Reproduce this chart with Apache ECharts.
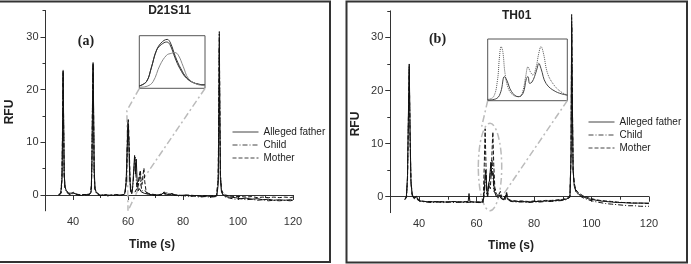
<!DOCTYPE html>
<html><head><meta charset="utf-8">
<script src="https://cdn.jsdelivr.net/npm/echarts@6/dist/echarts.min.js"></script>
<style>html,body{margin:0;padding:0;background:#fff}#c{width:691px;height:264px}</style>
</head><body><div id="c"></div><script>
// ---------- data ----------
var seriesNames = ['Alleged father', 'Child', 'Mother'];
var xLabelTicks = [40, 60, 80, 100, 120];
var xMinorTicks = [50, 70, 90, 110];
var yLabelTicks = [0, 10, 20, 30];
var yMinorTicks = [5, 15, 25, 35];

// Panel (a) D21S11  [time (s), RFU]
var fatherA = [[34.7,0.1],[35.5,0.2],[36.0,3],[36.2,12],[36.4,23.5],[36.6,14],[36.8,4],[37.1,1.5],[37.6,0.8],[38.3,0.3],[39,0.1],[40,0.4],[40.6,0.1],[42,0],[43,-0.1],[44,0.1],[45,0],[46,0.1],[46.6,0.5],[46.9,6],[47.1,17],[47.3,25],[47.5,16],[47.7,5],[48,1.2],[48.5,0.4],[49.5,0],[51,-0.1],[52,0.1],[53,-0.1],[54,0],[55,-0.1],[56,0.1],[57,-0.1],[58,0],[58.8,0.2],[59.3,2],[59.7,9],[60.0,13.8],[60.3,10],[60.6,4],[60.9,1],[61.3,0.3],[61.7,1.5],[62.1,5],[62.4,7.5],[62.7,4],[63.0,6.8],[63.3,3],[63.7,0.8],[64.2,1.2],[64.8,0.6],[65.5,0.8],[66,0.3],[67,0.2],[68,0.1],[70,0],[72,0],[73,0.5],[73.6,0],[75,0.1],[76,0.3],[77,0],[79,-0.1],[81,0],[83,-0.2],[85,-0.1],[87,-0.3],[89,-0.2],[91,-0.3],[92.3,-0.2],[92.8,2],[93.0,12],[93.2,28],[93.4,14],[93.6,3],[94,0.5],[94.6,0],[95.5,-0.3],[97,-0.4],[99,-0.5],[101,-0.7],[103,-0.6],[105,-0.8],[107,-0.7],[109,-0.9],[111,-0.8],[113,-1.0],[115,-0.9],[117,-1.0],[119,-0.9],[120,-1.0]];
var childA = [[34.8,0],[35.6,0.3],[36.0,4],[36.2,13],[36.4,23.8],[36.6,13],[36.8,3.5],[37.1,1.2],[37.6,0.6],[38.3,0.2],[39.2,0],[40.1,0.3],[40.8,0],[42,0.1],[43.5,-0.1],[45,0.1],[46.2,0.2],[46.7,1],[46.9,7],[47.1,18],[47.3,25.2],[47.5,15],[47.7,4],[48,1],[48.6,0.3],[49.6,-0.1],[51,0],[52.5,-0.2],[54,0],[55.5,-0.1],[57,0],[58.2,-0.1],[58.9,0.4],[59.4,3],[59.8,11],[60.1,14.3],[60.4,9],[60.7,3],[61.0,0.6],[61.4,0.2],[61.9,2.5],[62.3,6],[62.6,7.2],[62.9,3.5],[63.2,1.5],[63.8,2.5],[64.3,4.2],[64.6,2.5],[65.0,0.8],[65.6,0.5],[66.3,0.8],[67,0.2],[68.5,0],[70,-0.1],[71.5,0.1],[72.8,0.3],[73.4,0],[74.6,0.4],[75.2,0],[76.5,0.1],[78,-0.2],[80,-0.1],[82,-0.3],[84,-0.2],[86,-0.4],[88,-0.3],[90,-0.4],[92.2,-0.3],[92.8,3],[93.0,15],[93.2,31],[93.4,16],[93.6,4],[94,0.8],[94.6,0],[95.5,-0.4],[97,-0.6],[99,-0.8],[101,-0.7],[103,-0.9],[105,-0.8],[107,-1.0],[109,-0.9],[111,-1.1],[113,-1.0],[115,-1.1],[117,-1.0],[119,-1.1],[120,-1.0]];
var motherA = [[34.9,0.1],[35.7,0.4],[36.0,3],[36.2,11],[36.4,22.5],[36.6,13],[36.8,4],[37.1,1.5],[37.6,0.8],[38.4,0.4],[39.3,0.2],[40.2,0.5],[41,0.1],[42.5,0],[44,0.1],[45.5,0],[46.3,0.3],[46.7,2],[46.9,8],[47.1,18],[47.3,24],[47.5,14],[47.7,4],[48,1.2],[48.6,0.5],[49.6,0.1],[51,0],[52.5,0],[54,-0.1],[55.5,0.1],[57,-0.1],[58.3,0.1],[59,0.6],[59.5,4],[59.9,11],[60.2,13.2],[60.5,8],[60.8,2.5],[61.2,0.6],[61.8,0.3],[62.5,0.5],[63.2,0.5],[63.8,1.8],[64.2,4],[64.5,4.7],[64.8,2.5],[65.1,2],[65.5,4],[65.8,5.1],[66.1,2.5],[66.5,1],[67,0.4],[68,0.2],[69.5,0.1],[71,0],[72.5,0.2],[73.2,0.6],[73.8,0.1],[75,0.2],[76,0],[78,0],[80,-0.1],[82,0],[84,-0.1],[86,-0.2],[88,-0.1],[90,-0.2],[92.2,-0.1],[92.8,3],[93.0,14],[93.2,30.5],[93.4,16],[93.6,4],[94,1],[94.6,0.3],[95.5,0],[97,-0.2],[99,-0.3],[101,-0.3],[103,-0.4],[105,-0.3],[107,-0.5],[109,-0.4],[111,-0.5],[113,-0.4],[115,-0.5],[117,-0.4],[119,-0.5],[120,-0.4]];
var zoomLeftA = [[64.1,20.2],[59.6,16],[60,-3]];
var zoomRightA = [[88,20.2],[65.5,3],[60,-3]];

// Panel (b) TH01
var fatherB = [[35.1,-0.5],[35.6,0],[36.0,4],[36.3,15],[36.6,25],[36.9,12],[37.2,3],[37.6,0.5],[38.2,-0.3],[38.8,-0.5],[39.2,0],[39.6,-0.6],[40.5,-0.8],[42,-0.9],[44,-1.0],[46,-0.9],[48,-1.0],[50,-1.0],[52,-0.9],[54,-1.0],[56,-1.0],[57.1,-0.9],[57.4,0.6],[57.7,-0.9],[59,-1.0],[61,-1.0],[62.3,-1.0],[62.7,1],[63.0,4],[63.2,5],[63.5,2],[63.8,0],[64.2,2.5],[64.5,3],[64.8,5],[65.0,6.5],[65.3,4],[65.8,4.5],[66.2,1],[66.8,0.2],[67.5,-0.2],[68,0.3],[68.5,-0.3],[69.5,-0.5],[70.3,0.4],[70.8,-0.5],[72,-0.8],[74,-0.9],[76,-0.9],[78,-1.0],[80,-0.9],[82,-0.9],[84,-0.8],[86,-0.8],[88,-0.7],[90,-0.6],[91.5,-0.4],[92.5,0],[92.9,8],[93.1,33],[93.3,20],[93.6,5],[94,2],[94.6,1],[95.5,0.5],[97,0],[99,-0.4],[101,-0.6],[103,-0.8],[105,-0.9],[107,-1.0],[109,-1.1],[111,-1.1],[113,-1.2],[115,-1.2],[117,-1.2],[120,-1.2]];
var childB = [[35.0,-0.6],[35.6,-0.2],[36.0,3],[36.3,14],[36.6,24.5],[36.9,11],[37.2,2.5],[37.6,0.3],[38.2,-0.4],[38.9,-0.3],[39.3,-0.1],[39.8,-0.7],[40.8,-0.9],[42.5,-1.0],[44.5,-1.1],[46.5,-1.0],[48.5,-1.1],[50.5,-1.0],[52.5,-1.1],[54.5,-1.0],[56.5,-1.1],[58.5,-1.0],[60.5,-1.1],[62.3,-1.1],[62.8,1],[63.1,3.5],[63.3,4.5],[63.6,1.5],[63.9,0],[64.3,2],[64.7,4],[65.1,6],[65.4,7],[65.7,4],[66.1,1],[66.5,1.5],[66.9,0],[67.5,-0.3],[68.2,0.5],[68.7,-0.4],[69.6,-0.6],[70.5,0.8],[71,-0.6],[72,-0.9],[74,-1.0],[76,-1.0],[78,-1.1],[80,-1.0],[82,-1.0],[84,-0.9],[86,-0.9],[88,-0.8],[90,-0.7],[91.5,-0.5],[92.5,-0.1],[92.9,9],[93.1,34.5],[93.3,21],[93.6,5],[94,2.2],[94.6,1],[95.5,0.3],[97,-0.2],[99,-0.6],[101,-0.9],[103,-1.1],[105,-1.3],[107,-1.4],[109,-1.5],[111,-1.6],[113,-1.7],[115,-1.7],[117,-1.8],[120,-1.8]];
var motherB = [[35.2,-0.4],[35.7,0.1],[36.0,3.5],[36.3,14],[36.6,24],[36.9,11.5],[37.2,3],[37.6,0.6],[38.2,-0.2],[38.8,-0.4],[39.2,0.1],[39.7,-0.5],[40.6,-0.8],[42.2,-0.9],[44.2,-0.9],[46.2,-1.0],[48.2,-0.9],[50.2,-1.0],[52.2,-0.9],[54.2,-1.0],[56.2,-0.9],[58.2,-1.0],[60.2,-1.0],[62,-1.0],[62.4,0],[62.7,6],[63.0,12.8],[63.3,6],[63.6,0.5],[64.0,1],[64.4,2.2],[64.8,1.5],[65.2,5],[65.5,10],[65.7,12.2],[66.0,6],[66.4,1.5],[66.9,0.5],[67.6,0.2],[68.3,1],[68.8,-0.2],[69.5,-0.5],[70.4,0.6],[70.9,-0.4],[72,-0.7],[74,-0.8],[76,-0.8],[78,-0.9],[80,-0.8],[82,-0.8],[84,-0.7],[86,-0.7],[88,-0.6],[90,-0.5],[91.5,-0.3],[92.5,0.2],[92.9,8],[93.1,32],[93.3,19],[93.6,5],[94,2.5],[94.6,1.3],[95.5,0.7],[97,0.2],[99,-0.2],[101,-0.5],[103,-0.7],[105,-0.8],[107,-0.9],[109,-1.0],[111,-1.1],[113,-1.1],[115,-1.2],[117,-1.2],[120,-1.3]];
var zoomLeftB = [[63.9,18.1],[61.8,13.2]];
var zoomRightB = [[91.6,18.1],[68.8,0]];
var ellipseB = {cx: 64.7, cy: 5.6, rx: 4.07, ry: 8.23}; // data units

// Insets (relative units 0..100)
var insetAFather = [[0,4.4],[11,12.7],[18.8,41],[26.4,72.8],[34,83.5],[41.6,88],[46.7,83],[54.3,58],[62,37],[72,19],[84.8,9.5],[100,6.3]];
var insetAChild = [[0,4.4],[11,13],[18,38],[25.5,70],[33,86],[42.5,93],[47.5,86],[55,60],[63,38],[73,19],[85,9.5],[100,6.3]];
var insetAMother = [[0,2],[12,4],[21,12.7],[31.5,44],[41.6,63],[49,66.5],[54,68],[59.4,63],[67,41],[74.6,19],[87,8],[100,5]];
var insetBDotted = [[0,2],[7.4,6.5],[12.3,33.5],[14.8,71],[16.9,87.6],[19,79.5],[21.8,44],[25.9,20],[32,9],[40.3,6.5],[44.4,17],[47.7,39],[50.6,55],[53.5,47],[56.8,41.6],[60.9,55],[64.2,77],[67,87.6],[70,77],[75.3,44],[83.5,25],[91.8,14.6],[100,9]];
var insetBSolid = [[0,1],[11.5,3.8],[16.5,14.6],[21,39],[23.9,33.5],[30,14.6],[38.3,6.5],[44.4,12],[48.6,36],[50.6,39],[52.7,28],[55.5,30],[58.8,39],[62,52],[64.2,60.5],[67,52],[73.3,28],[85.6,14.6],[100,9]];

// ---------- chart ----------
var FONT = '"Liberation Sans", Arial, sans-serif';
var axisColor = '#333';
function mainX(grid){return {gridIndex:grid,type:'value',min:30,max:120,position:'bottom',
  axisLine:{lineStyle:{color:axisColor,width:1}},splitLine:{show:false},
  axisTick:{customValues:xLabelTicks,length:5,lineStyle:{color:axisColor}},
  axisLabel:{customValues:xLabelTicks,fontSize:11,color:'#333',fontFamily:FONT,margin:6}};}
function minorX(grid){return {gridIndex:grid,type:'value',min:30,max:120,position:'bottom',
  axisLine:{show:false},splitLine:{show:false},axisLabel:{show:false},
  axisTick:{customValues:xMinorTicks,length:3,lineStyle:{color:axisColor}}};}
function mainY(grid){return {gridIndex:grid,type:'value',min:-3,max:35,position:'left',
  axisLine:{show:true,lineStyle:{color:axisColor,width:1}},splitLine:{show:false},
  axisTick:{show:true,customValues:yLabelTicks,length:5,lineStyle:{color:axisColor}},
  axisLabel:{customValues:yLabelTicks,fontSize:11,color:'#333',fontFamily:FONT,margin:7}};}
function minorY(grid){return {gridIndex:grid,type:'value',min:-3,max:35,position:'left',
  axisLine:{show:false},splitLine:{show:false},axisLabel:{show:false},
  axisTick:{show:true,customValues:yMinorTicks,length:3,lineStyle:{color:axisColor}}};}
function hidden(grid){return {gridIndex:grid,type:'value',min:0,max:100,show:false};}

var styles = [
  {color:'#111',width:1,type:'solid'},
  {color:'#111',width:1,type:[5,2,1,2]},
  {color:'#111',width:1,type:[4,2]}
];
function dataSeries(name,data,ax,st){
  return {name:name,type:'line',data:data,xAxisIndex:ax,yAxisIndex:ax,symbol:'none',
    lineStyle:st,itemStyle:{color:st.color},silent:true,z:3};
}
function zoomSeries(data,ax){
  return {type:'line',data:data,xAxisIndex:ax,yAxisIndex:ax,symbol:'none',silent:true,z:2,
    lineStyle:{color:'#bbb',width:1.5,type:[7,3,2,3]}};
}
function insetSeries(data,ax,color,type){
  return {type:'line',data:data,xAxisIndex:ax,yAxisIndex:ax,symbol:'none',smooth:0.4,silent:true,z:4,
    lineStyle:{color:color,width:1,type:type}};
}

var chart = echarts.init(document.getElementById('c'), null, {renderer:'canvas'});
var legendCommon = {data:seriesNames,orient:'vertical',itemWidth:26,itemHeight:10,itemGap:3,
  selectedMode:false,itemStyle:{opacity:0,borderWidth:0},lineStyle:{width:1,color:'#444'},
  textStyle:{fontSize:10,color:'#222',fontFamily:FONT}};
var option = {
  animation:false,
  backgroundColor:'#fff',
  grid:[
    {left:45.5,top:10.5,width:247.5,height:200.3},
    {left:390.25,top:10.85,width:258.75,height:201.8},
    {left:139.3,top:35.7,width:65.7,height:52.6,show:true,backgroundColor:'#fff',borderColor:'#555',borderWidth:1},
    {left:487.7,top:39,width:79.6,height:61.7,show:true,backgroundColor:'#fff',borderColor:'#555',borderWidth:1}
  ],
  xAxis:[mainX(0),minorX(0),mainX(1),minorX(1),hidden(2),hidden(3)],
  yAxis:[mainY(0),minorY(0),mainY(1),minorY(1),hidden(2),hidden(3)],
  legend:[
    Object.assign({left:227,top:122},legendCommon),
    Object.assign({left:583,top:112},legendCommon)
  ],
  series:[
    dataSeries(seriesNames[0],fatherA,0,styles[0]),
    dataSeries(seriesNames[1],childA,0,styles[1]),
    dataSeries(seriesNames[2],motherA,0,styles[2]),
    zoomSeries(zoomLeftA,0),zoomSeries(zoomRightA,0),
    dataSeries(seriesNames[0],fatherB,2,styles[0]),
    dataSeries(seriesNames[1],childB,2,styles[1]),
    dataSeries(seriesNames[2],motherB,2,styles[2]),
    zoomSeries(zoomLeftB,2),zoomSeries(zoomRightB,2),
    insetSeries(insetAFather,4,'#333','solid'),
    insetSeries(insetAChild,4,'#333','solid'),
    insetSeries(insetAMother,4,'#888','solid'),
    insetSeries(insetBDotted,5,'#555','dotted'),
    insetSeries(insetBSolid,5,'#444','solid')
  ]
};
chart.setOption(option);

function txt(x,y,text,font,rot){
  return {type:'text',x:x,y:y,rotation:rot||0,silent:true,z:10,
    style:{text:text,font:font,fill:'#222',textAlign:'center',textVerticalAlign:'middle'}};
}
var c = chart.convertToPixel({xAxisIndex:2,yAxisIndex:2},[ellipseB.cx,ellipseB.cy]);
var e = chart.convertToPixel({xAxisIndex:2,yAxisIndex:2},[ellipseB.cx+ellipseB.rx,ellipseB.cy+ellipseB.ry]);
chart.setOption({graphic:[
  {type:'rect',shape:{x:-1,y:1.5,width:331,height:260.5},style:{fill:'none',stroke:'#333',lineWidth:2},silent:true},
  {type:'rect',shape:{x:346.5,y:1.5,width:340.5,height:261},style:{fill:'none',stroke:'#333',lineWidth:2},silent:true},
  {type:'ellipse',shape:{cx:c[0],cy:c[1],rx:Math.abs(e[0]-c[0]),ry:Math.abs(c[1]-e[1])},
    style:{fill:'none',stroke:'#bbb',lineWidth:1.5,lineDash:[7,3,2,3]},silent:true,z:1},
  txt(169.5,11,'D21S11','bold 12px '+FONT),
  txt(516.7,15.7,'TH01','bold 12px '+FONT),
  txt(86,41,'(a)','bold 14px "Liberation Serif", "Times New Roman", serif'),
  txt(437.5,39,'(b)','bold 14px "Liberation Serif", "Times New Roman", serif'),
  txt(10,112,'RFU','bold 12px '+FONT,Math.PI/2),
  txt(356,124,'RFU','bold 12px '+FONT,Math.PI/2),
  txt(152,244.3,'Time (s)','bold 12px '+FONT),
  txt(511,245.7,'Time (s)','bold 12px '+FONT)
]});
</script></body></html>
